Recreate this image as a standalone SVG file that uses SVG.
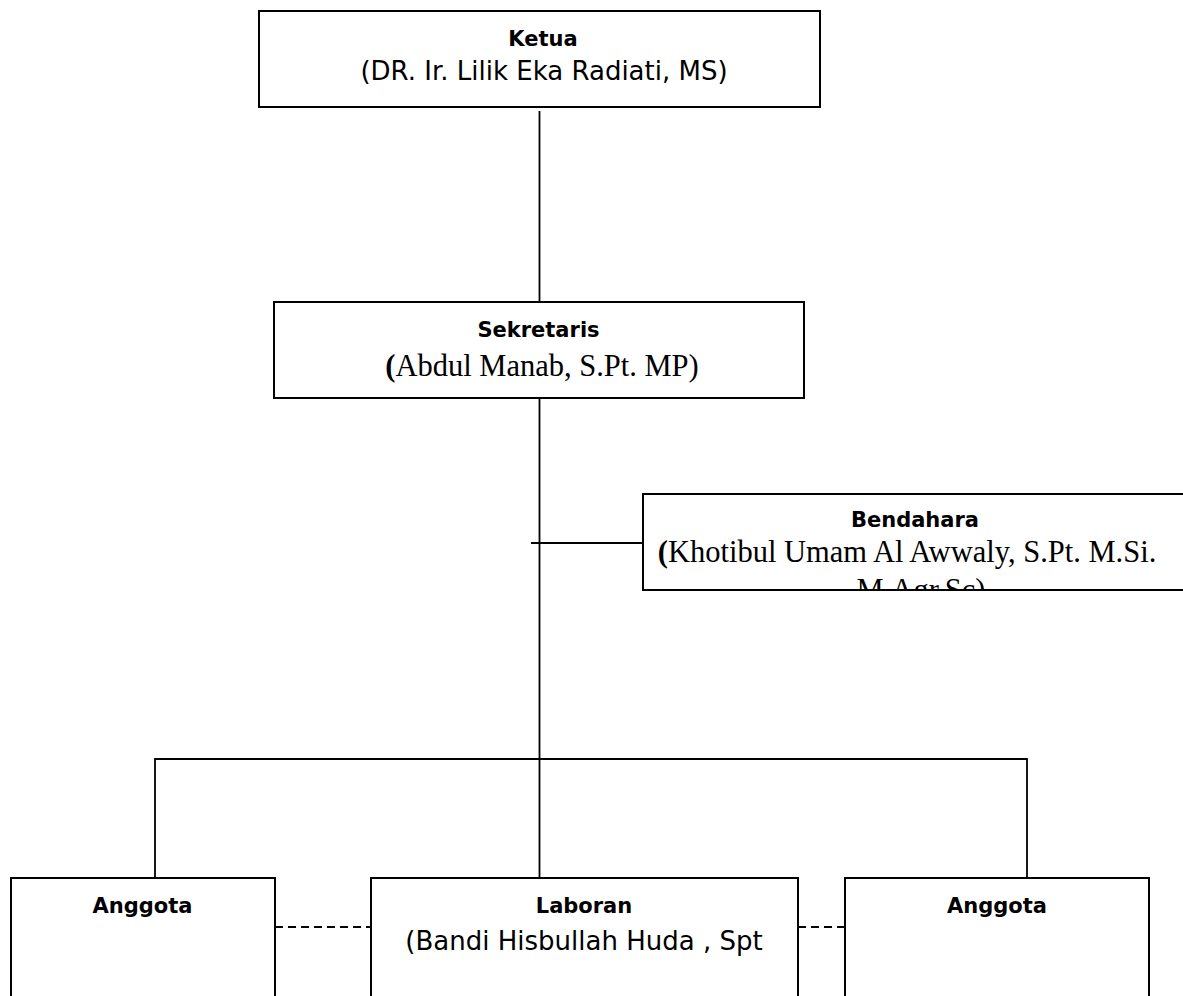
<svg xmlns="http://www.w3.org/2000/svg" width="1183" height="996" viewBox="0 0 1183 996">
<style>
.box{fill:#fff;stroke:#000;stroke-width:2}
.ln{stroke:#000;stroke-width:1.8;fill:none}
.dash{stroke:#000;stroke-width:1.8;fill:none;stroke-dasharray:8 5}
.hd{font-family:"DejaVu Sans",sans-serif;font-weight:bold;font-size:21px;text-anchor:middle;fill:#000}
.ss{font-family:"DejaVu Sans",sans-serif;font-size:26px;text-anchor:middle;fill:#000}
.sf{font-family:"Liberation Serif","Times New Roman",serif;font-size:30.5px;text-anchor:middle;fill:#000}
</style>
<defs>
<clipPath id="clipBend"><rect x="644" y="495" width="545" height="94"/></clipPath>
</defs>
<rect width="1183" height="996" fill="#fff"/>
<g id="connectors">
<line class="ln" x1="539.5" y1="111" x2="539.5" y2="302"/>
<line class="ln" x1="539.5" y1="398" x2="539.5" y2="878"/>
<line class="ln" x1="531" y1="543" x2="643" y2="543"/>
<polyline class="ln" points="155,878 155,759 1027,759 1027,878"/>
<line class="dash" x1="275" y1="927" x2="371" y2="927"/>
<line class="dash" x1="798" y1="927" x2="845" y2="927"/>
</g>
<g id="ketua">
<rect class="box" x="259" y="11" width="561" height="96"/>
<text class="hd" x="543" y="46">Ketua</text>
<text class="ss" x="544" y="80">(DR. Ir. Lilik Eka Radiati, MS)</text>
</g>
<g id="sekretaris">
<rect class="box" x="274" y="302" width="530" height="96"/>
<text class="hd" x="538.5" y="337">Sekretaris</text>
<text class="sf" x="542" y="376"><tspan font-weight="bold">(</tspan>Abdul Manab, S.Pt. MP)</text>
</g>
<g id="bendahara">
<rect class="box" x="643" y="494" width="546" height="96"/>
<text class="hd" x="915" y="527">Bendahara</text>
<text class="sf" x="907" y="562"><tspan font-weight="bold">(</tspan>Khotibul Umam Al Awwaly, S.Pt. M.Si.</text>
<text class="sf" x="921" y="600" clip-path="url(#clipBend)">M.Agr.Sc)</text>
</g>
<g id="anggota-kiri">
<rect class="box" x="11" y="878" width="264" height="130"/>
<text class="hd" x="142.5" y="913">Anggota</text>
</g>
<g id="laboran">
<rect class="box" x="371" y="878" width="427" height="130"/>
<text class="hd" x="584" y="913">Laboran</text>
<text class="ss" x="584" y="950">(Bandi Hisbullah Huda , Spt</text>
</g>
<g id="anggota-kanan">
<rect class="box" x="845" y="878" width="304" height="130"/>
<text class="hd" x="997" y="913">Anggota</text>
</g>
</svg>
